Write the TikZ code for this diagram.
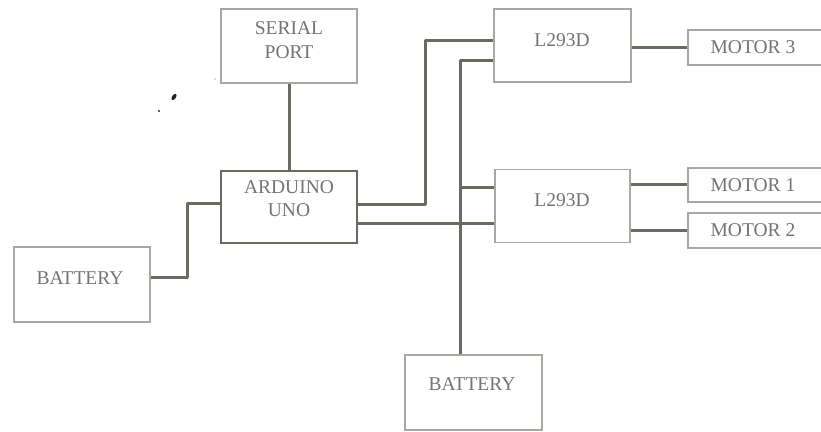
\documentclass[tikz,border=0pt]{standalone}
\usepackage{fontspec}
\setmainfont{Liberation Serif}
\definecolor{wire}{HTML}{6A6A62}
\definecolor{edge}{HTML}{A8A8A3}
\definecolor{ink}{HTML}{747470}
\tikzset{
  box/.style={draw=edge, line width=1.2pt, rectangle, inner sep=0pt},
  darkbox/.style={draw=wire, line width=2.2pt, rectangle, inner sep=0pt},
  txt/.style={text=ink, font=\fontsize{19.5}{23}\selectfont, inner sep=0pt, align=center},
  conn/.style={draw=wire, line width=3pt, line join=round}
}
\begin{document}
\begin{tikzpicture}[x=1pt,y=-1pt]
\clip (0,0) rectangle (821,431);
\fill[white] (0,0) rectangle (821,431);
% boxes
\node[box, minimum width=136pt, minimum height=74pt] (sp) at (289,46) {};
\node[darkbox, minimum width=136pt, minimum height=72pt] (ard) at (289,207) {};
\node[box, minimum width=136pt, minimum height=75pt] (bat1) at (82,284.5) {};
\node[box, minimum width=137pt, minimum height=73pt] (tl) at (562.5,45.5) {};
\node[box, minimum width=135pt, minimum height=73pt] (bl) at (562.5,206) {};
\node[box, minimum width=137pt, minimum height=75pt] (bat2) at (473.5,392.5) {};
\node[box, minimum width=142pt, minimum height=35pt] (m3) at (759,47.5) {};
\node[box, minimum width=142pt, minimum height=34pt] (m1) at (759,185) {};
\node[box, minimum width=142pt, minimum height=35pt] (m2) at (759,230.5) {};
% texts
\node[txt] (tsp1) at (289,28) {SERIAL};
\node[txt] (tsp2) at (289,52) {PORT};
\node[txt] (tard1) at (289,187) {ARDUINO};
\node[txt] (tard2) at (289,210) {UNO};
\node[txt] (tb1) at (80,278) {BATTERY};
\node[txt] (ttl) at (562,40) {L293D};
\node[txt] (tbl) at (562,200) {L293D};
\node[txt] (tb2) at (472,384) {BATTERY};
\node[txt] (tm3) at (753,47) {MOTOR 3};
\node[txt] (tm1) at (753,185) {MOTOR 1};
\node[txt] (tm2) at (753,230) {MOTOR 2};
% connectors
\draw[conn] (sp.south) -- (ard.north);
\draw[conn] (bat1.east |- 0,277) -- (187,277) -- (187,203) -- (ard.west |- 0,203);
\draw[conn] (ard.east |- 0,204) -- (425,204) -- (425,40) -- (tl.west |- 0,40);
\draw[conn] (ard.east |- 0,223) -- (bl.west |- 0,223);
\draw[conn] (bat2.north -| 460,0) -- (460,60) -- (tl.west |- 0,60);
\draw[conn] (460,187) -- (bl.west |- 0,187);
\draw[conn] (tl.east |- 0,47) -- (m3.west |- 0,47);
\draw[conn] (bl.east |- 0,184) -- (m1.west |- 0,184);
\draw[conn] (bl.east |- 0,230) -- (m2.west |- 0,230);
% scan specks
\fill[black!85, rotate around={-35:(174,97)}] (174,97) ellipse (2pt and 3.5pt);
\fill[black!85] (159,111) circle (1.2pt);
\fill[black!60] (215,79) circle (0.7pt);
\end{tikzpicture}
\end{document}
